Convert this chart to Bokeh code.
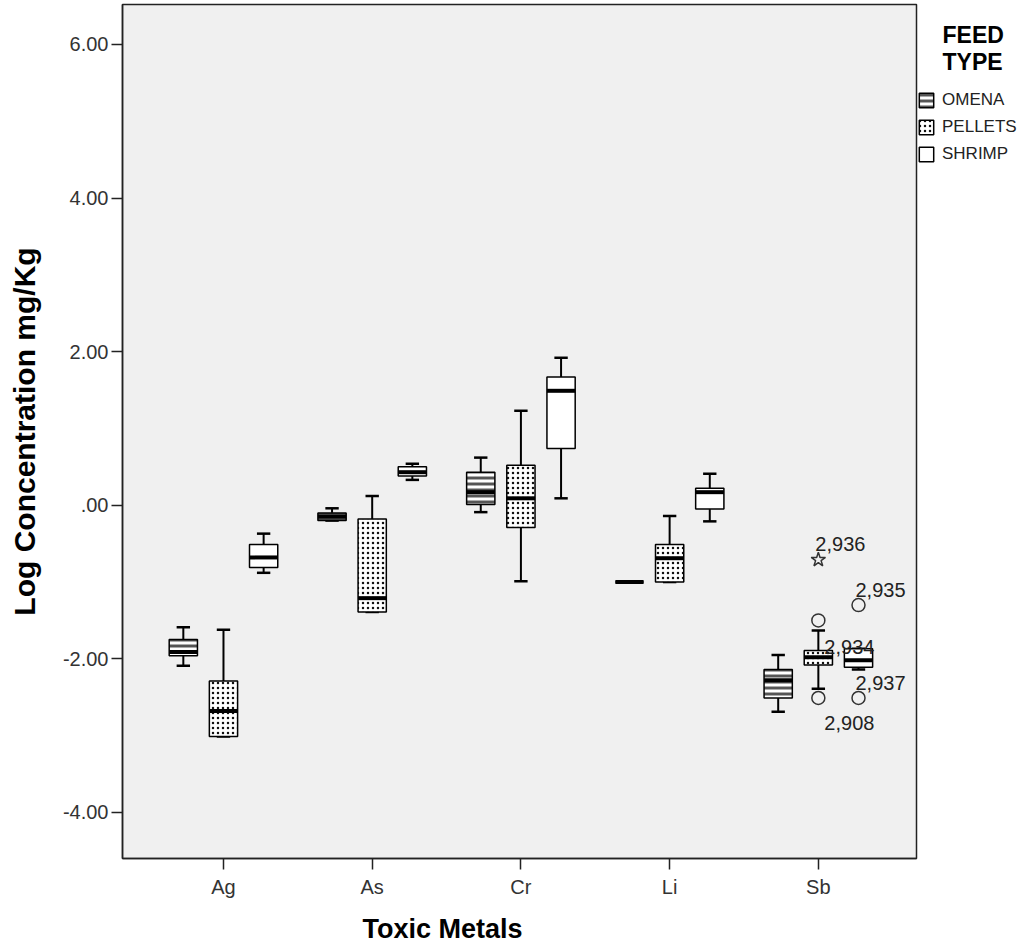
from bokeh.plotting import figure
from bokeh.models import (ColumnDataSource, FixedTicker, Legend, LegendItem, Range1d, Title)
from bokeh.core.properties import value
from bokeh.embed import file_html
from bokeh.resources import INLINE

# ---------------- data ----------------
metals = ["Ag", "As", "Cr", "Li", "Sb"]
feed_types = ["OMENA", "PELLETS", "SHRIMP"]
y_tick_values = [-4, -2, 0, 2, 4, 6]
y_tick_labels = ["-4.00", "-2.00", ".00", "2.00", "4.00", "6.00"]

# box statistics per feed type, one value per metal (Ag, As, Cr, Li, Sb)
omena_low = [-2.09, -0.20, -0.09, -1.00, -2.69]
omena_q1 = [-1.96, -0.20, 0.01, -1.00, -2.51]
omena_median = [-1.91, -0.15, 0.17, -1.00, -2.28]
omena_q3 = [-1.75, -0.10, 0.43, -1.00, -2.14]
omena_high = [-1.59, -0.04, 0.62, -1.00, -1.95]

pellets_low = [-3.01, -1.39, -0.99, -1.00, -2.39]
pellets_q1 = [-3.01, -1.39, -0.29, -1.00, -2.08]
pellets_median = [-2.68, -1.21, 0.09, -0.69, -1.98]
pellets_q3 = [-2.29, -0.18, 0.52, -0.51, -1.89]
pellets_high = [-1.62, 0.12, 1.23, -0.14, -1.63]

shrimp_low = [-0.88, 0.33, 0.09, -0.21, -2.14]
shrimp_q1 = [-0.81, 0.38, 0.74, -0.05, -2.11]
shrimp_median = [-0.68, 0.43, 1.49, 0.17, -2.02]
shrimp_q3 = [-0.51, 0.50, 1.67, 0.22, -1.87]
shrimp_high = [-0.37, 0.54, 1.92, 0.41, -1.87]

# outliers (Sb)
outlier_metal = ["Sb", "Sb", "Sb", "Sb", "Sb"]
outlier_feed = ["PELLETS", "PELLETS", "PELLETS", "SHRIMP", "SHRIMP"]
outlier_value = [-0.71, -1.50, -2.51, -1.30, -2.51]
outlier_case = ["2,936", "2,934", "2,908", "2,935", "2,937"]
outlier_extreme = [True, False, False, False, False]

# ---------------- styles ----------------
FONT = "Liberation Sans"
NBSP = "\u00a0"
group_offset = {"OMENA": -0.27, "PELLETS": 0.0, "SHRIMP": 0.27}
box_w = 0.19
cap_w = 0.09
label_dx = [-3, 6, 6, -3, -3]
label_dy = [-16, 27, 25, -15, -15]

stats = {
    "OMENA": (omena_low, omena_q1, omena_median, omena_q3, omena_high),
    "PELLETS": (pellets_low, pellets_q1, pellets_median, pellets_q3, pellets_high),
    "SHRIMP": (shrimp_low, shrimp_q1, shrimp_median, shrimp_q3, shrimp_high),
}
fill_styles = {
    "OMENA": dict(fill_color="white", hatch_pattern="horizontal_line", hatch_color="#555555",
                  hatch_weight=3, hatch_scale=6),
    "PELLETS": dict(fill_color="white", hatch_pattern="dot", hatch_color="#111111",
                    hatch_weight=2.5, hatch_scale=5),
    "SHRIMP": dict(fill_color="white"),
}

p = figure(frame_width=794, frame_height=854,
           min_border_left=122, min_border_right=94, min_border_top=4, min_border_bottom=82,
           x_range=Range1d(-0.679, 4.66), y_range=Range1d(-4.6, 6.52),
           output_backend="svg", toolbar_location=None)
p.background_fill_color = "#f0f0f0"
p.border_fill_color = "white"
p.outline_line_color = "#222222"
p.outline_line_width = 1.5
p.grid.visible = False

legend_items = []
for feed in feed_types:
    lo, q1, med, q3, hi = stats[feed]
    xs = [i + group_offset[feed] for i in range(len(metals))]
    src = ColumnDataSource(dict(
        x=xs, lo=lo, q1=q1, med=med, q3=q3, hi=hi,
        xl=[x - box_w / 2 for x in xs], xr=[x + box_w / 2 for x in xs],
        cl=[x - cap_w / 2 for x in xs], cr=[x + cap_w / 2 for x in xs],
    ))
    p.segment(x0="x", y0="q3", x1="x", y1="hi", source=src, line_color="black", line_width=2)
    p.segment(x0="x", y0="lo", x1="x", y1="q1", source=src, line_color="black", line_width=2)
    p.segment(x0="cl", y0="hi", x1="cr", y1="hi", source=src, line_color="black", line_width=2.5)
    p.segment(x0="cl", y0="lo", x1="cr", y1="lo", source=src, line_color="black", line_width=2.5)
    r = p.vbar(x="x", width=box_w, bottom="q1", top="q3", source=src,
               line_color="black", line_width=1.5, **fill_styles[feed])
    p.segment(x0="xl", y0="med", x1="xr", y1="med", source=src, line_color="black", line_width=4)
    legend_items.append(LegendItem(label=feed, renderers=[r]))

# outliers
ox = [metals.index(m) + group_offset[f] for m, f in zip(outlier_metal, outlier_feed)]
osrc = ColumnDataSource(dict(
    x=ox, y=outlier_value, case=outlier_case,
    marker=["star" if e else "circle" for e in outlier_extreme],
    size=[15 if e else 13 for e in outlier_extreme],
    dx=label_dx, dy=label_dy,
))
p.scatter(x="x", y="y", marker="marker", size="size", source=osrc,
          fill_color=None, line_color="#333333", line_width=1.5)
p.text(x="x", y="y", text="case", x_offset="dx", y_offset="dy", source=osrc,
       text_font=value(FONT), text_font_size="20px", text_color="#222222",
       text_align="left", text_baseline="alphabetic")

# axes
p.xaxis.ticker = FixedTicker(ticks=list(range(len(metals))))
p.xaxis.major_label_overrides = {i: m for i, m in enumerate(metals)}
p.yaxis.ticker = FixedTicker(ticks=y_tick_values)
p.yaxis.major_label_overrides = dict(zip(y_tick_values, y_tick_labels))
for ax in (p.xaxis, p.yaxis):
    ax.major_tick_in = 0
    ax.major_tick_out = 11
    ax.minor_tick_line_color = None
    ax.axis_line_color = "#222222"
    ax.axis_line_width = 1.5
    ax.major_tick_line_color = "#222222"
    ax.major_tick_line_width = 1.5
    ax.major_label_text_font = FONT
    ax.major_label_text_font_size = "20px"
    ax.major_label_text_color = "#333333"
p.xaxis.major_label_standoff = 6
p.yaxis.major_label_standoff = 3

p.yaxis.axis_label = "Log Concentration mg/Kg"
p.yaxis.axis_label_text_font = FONT
p.yaxis.axis_label_text_font_size = "30px"
p.yaxis.axis_label_text_font_style = "bold"
p.yaxis.axis_label_text_color = "black"
p.yaxis.axis_label_standoff = 19

p.add_layout(Title(text="Toxic Metals", align="left", offset=240, standoff=22,
                   text_font=FONT, text_font_size="27px", text_font_style="bold",
                   text_color="black"), "below")

legend = Legend(items=legend_items, location=(1, 694),
                title=NBSP * 4 + "FEED\n" + NBSP * 4 + "TYPE")
legend.title_text_font = FONT
legend.title_text_font_size = "23px"
legend.title_text_font_style = "bold"
legend.title_text_color = "black"
legend.title_standoff = 14
legend.border_line_color = None
legend.background_fill_alpha = 0
legend.padding = 0
legend.margin = 0
legend.spacing = 7
legend.glyph_width = 18
legend.glyph_height = 18
legend.label_height = 18
legend.label_standoff = 7
legend.label_text_font = FONT
legend.label_text_font_size = "17px"
legend.label_text_color = "#222222"
p.add_layout(legend, "right")

open("out.html", "w").write(file_html(p, INLINE))
